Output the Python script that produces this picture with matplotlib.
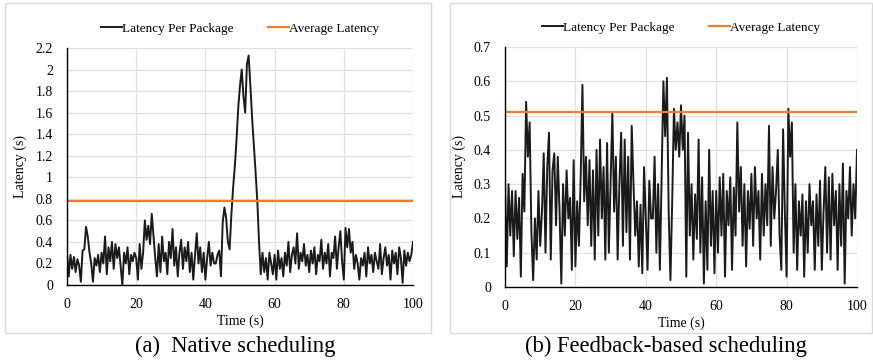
import numpy as np
import matplotlib
matplotlib.use('Agg')
import matplotlib.pyplot as plt
from matplotlib.ticker import FuncFormatter, MultipleLocator
from matplotlib.patches import Rectangle

plt.rcParams['font.family'] = ['Liberation Serif', 'DejaVu Serif']

# time axis: one sample every 0.5 s
time_s = np.arange(0, 100.5, 0.5)

# (a) native scheduling latency per package
native_latency = [
    0.30, 0.08, 0.28, 0.15, 0.26, 0.12, 0.24, 0.18, 0.03, 0.32,
    0.33, 0.54, 0.45, 0.30, 0.20, 0.03, 0.25, 0.18, 0.28, 0.12,
    0.30, 0.20, 0.45, 0.10, 0.35, 0.22, 0.40, 0.15, 0.38, 0.25,
    0.35, 0.18, 0.00, 0.30, 0.20, 0.35, 0.10, 0.28, 0.22, 0.30,
    0.25, 0.05, 0.38, 0.15, 0.30, 0.60, 0.42, 0.55, 0.38, 0.66,
    0.45, 0.25, 0.08, 0.38, 0.12, 0.45, 0.22, 0.30, 0.10, 0.40,
    0.25, 0.52, 0.18, 0.35, 0.08, 0.30, 0.42, 0.15, 0.35, 0.22,
    0.40, 0.12, 0.30, 0.05, 0.28, 0.48, 0.20, 0.35, 0.12, 0.30,
    0.05, 0.25, 0.40, 0.18, 0.30, 0.20, 0.20, 0.28, 0.32, 0.08,
    0.58, 0.72, 0.62, 0.40, 0.33, 0.65, 0.90, 1.10, 1.35, 1.65,
    1.85, 2.00, 1.75, 1.60, 2.05, 2.13, 1.85, 1.55, 1.30, 1.05,
    0.78, 0.40, 0.10, 0.30, 0.12, 0.25, 0.05, 0.30, 0.20, 0.10,
    0.28, 0.05, 0.32, 0.15, 0.25, 0.08, 0.30, 0.18, 0.40, 0.12,
    0.28, 0.35, 0.20, 0.48, 0.15, 0.30, 0.22, 0.38, 0.18, 0.28,
    0.12, 0.32, 0.20, 0.35, 0.10, 0.28, 0.22, 0.42, 0.15, 0.30,
    0.20, 0.38, 0.08, 0.30, 0.25, 0.45, 0.15, 0.35, 0.50, 0.22,
    0.05, 0.53, 0.35, 0.52, 0.30, 0.40, 0.15, 0.28, 0.20, 0.05,
    0.25, 0.18, 0.30, 0.08, 0.35, 0.20, 0.28, 0.12, 0.30, 0.22,
    0.15, 0.38, 0.10, 0.25, 0.35, 0.18, 0.28, 0.05, 0.32, 0.20,
    0.30, 0.10, 0.35, 0.25, 0.02, 0.32, 0.18, 0.30, 0.22, 0.28, 0.40,
]
native_avg = 0.78

# (b) feedback-based scheduling latency per package
feedback_latency = [
    0.31, 0.06, 0.30, 0.15, 0.28, 0.09, 0.28, 0.14, 0.26, 0.03,
    0.33, 0.22, 0.54, 0.38, 0.48, 0.16, 0.02, 0.20, 0.08, 0.28,
    0.12, 0.22, 0.39, 0.10, 0.35, 0.45, 0.08, 0.34, 0.39, 0.18,
    0.38, 0.22, 0.01, 0.30, 0.15, 0.34, 0.20, 0.26, 0.05, 0.37,
    0.06, 0.25, 0.12, 0.32, 0.59, 0.25, 0.38, 0.18, 0.37, 0.12,
    0.34, 0.08, 0.40, 0.15, 0.43, 0.20, 0.35, 0.08, 0.42, 0.10,
    0.30, 0.51, 0.22, 0.38, 0.08, 0.30, 0.45, 0.12, 0.43, 0.16,
    0.38, 0.08, 0.47, 0.30, 0.15, 0.25, 0.06, 0.24, 0.04, 0.35,
    0.20, 0.05, 0.31, 0.20, 0.20, 0.38, 0.10, 0.30, 0.05, 0.32,
    0.60, 0.44, 0.61, 0.22, 0.02, 0.25, 0.52, 0.40, 0.48, 0.38,
    0.53, 0.40, 0.50, 0.03, 0.45, 0.15, 0.30, 0.08, 0.27, 0.14,
    0.43, 0.10, 0.32, 0.01, 0.25, 0.05, 0.40, 0.12, 0.28, 0.04,
    0.28, 0.10, 0.32, 0.15, 0.33, 0.03, 0.28, 0.18, 0.32, 0.05,
    0.29, 0.15, 0.48, 0.22, 0.35, 0.12, 0.30, 0.06, 0.28, 0.17,
    0.33, 0.12, 0.35, 0.20, 0.28, 0.08, 0.33, 0.15, 0.30, 0.18,
    0.47, 0.12, 0.35, 0.20, 0.28, 0.40, 0.15, 0.05, 0.46, 0.22,
    0.03, 0.52, 0.38, 0.48, 0.10, 0.30, 0.05, 0.25, 0.15, 0.27,
    0.03, 0.25, 0.10, 0.30, 0.18, 0.25, 0.05, 0.27, 0.12, 0.31,
    0.05, 0.22, 0.35, 0.10, 0.32, 0.08, 0.33, 0.18, 0.28, 0.05,
    0.30, 0.12, 0.36, 0.01, 0.28, 0.20, 0.35, 0.15, 0.30, 0.20, 0.40,
]
feedback_avg = 0.51

W, H = 873, 363
fig = plt.figure(figsize=(W / 100, H / 100), dpi=100)

# light grey chart-area frames
for x0, x1 in [(5, 431), (450, 872)]:
    fig.patches.append(Rectangle((x0 / W, 1 - 333 / H), (x1 - x0) / W, 330 / H,
                                 transform=fig.transFigure, fill=False,
                                 edgecolor='#d9d9d9', linewidth=1))

ax1 = fig.add_axes([67 / W, 1 - 285 / H, 346 / W, 237 / H])
ax2 = fig.add_axes([505 / W, 1 - 287 / H, 352 / W, 240 / H])

panels = [
    (ax1, native_latency, native_avg, 2.2, 0.2),
    (ax2, feedback_latency, feedback_avg, 0.7, 0.1),
]

for ax, lat, avg, ymax, ystep in panels:
    ax.plot(time_s, lat, color='#1a1a1a', linewidth=1.4, label='Latency Per Package')
    ax.plot([0, 100], [avg, avg], color='#ED7D31', linewidth=1.6, label='Average Latency')
    ax.set_xlim(0, 100)
    ax.set_ylim(0, ymax)
    ax.xaxis.set_major_locator(MultipleLocator(20))
    ax.yaxis.set_major_locator(MultipleLocator(ystep))
    ax.yaxis.set_major_formatter(FuncFormatter(lambda v, p: f'{v:.1f}'.rstrip('0').rstrip('.') if v else '0'))
    ax.grid(True, color='#e0e0e0', linewidth=0.9)
    ax.set_axisbelow(True)
    for s in ['top', 'right']:
        ax.spines[s].set_visible(False)
    for s in ['left', 'bottom']:
        ax.spines[s].set_color('black')
        ax.spines[s].set_linewidth(1.0)
    ax.tick_params(axis='x', length=0, labelsize=10, pad=9)
    ax.tick_params(axis='y', length=0, labelsize=10, pad=10)
    ax.set_xlabel('Time (s)', fontsize=10, labelpad=3)
    ax.set_ylabel('Latency (s)', fontsize=10, labelpad=6)
    ax.legend(loc='lower center', bbox_to_anchor=(0.5, 1.005), ncol=2, frameon=False,
              fontsize=9.5, handlelength=1.6, handletextpad=0.0, columnspacing=2.6)

fig.text(235 / W, 1 - 346 / H, '(a)  Native scheduling', ha='center', va='center', fontsize=16.3)
fig.text(666 / W, 1 - 346 / H, '(b) Feedback-based scheduling', ha='center', va='center', fontsize=16.3)

fig.savefig('out.png', dpi=100)
